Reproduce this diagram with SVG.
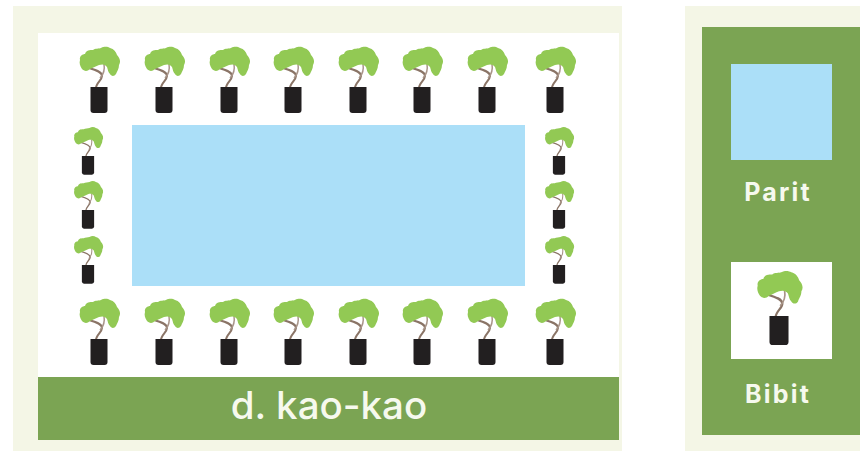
<svg xmlns="http://www.w3.org/2000/svg" xmlns:xlink="http://www.w3.org/1999/xlink" width="860" height="451" viewBox="0 0 860 451">
<style>
.beige{fill:#f4f6e6}.green{fill:#7ba453}.white{fill:#fff}.blue{fill:#abdff8}
.t{fill:#f6f9ee;font-family:"Inter","Liberation Sans",sans-serif;text-anchor:middle}
.lbl{font-size:25px;font-weight:700;letter-spacing:2.2px}
.title{font-size:38.5px;font-weight:500}
</style>
<defs>
<g id="tree">
<path d="M-3 1C-3-4 3-7 3-11C3-15-3-17-10-19" fill="none" stroke="#8a7466" stroke-width="2"/>
<path d="M1-9C5-13 6-17 5-23" fill="none" stroke="#a89488" stroke-width="1.5"/>
<path d="M-19-27C-20-31-16-33-14-33C-13-37-9-37-6-37C-4-39 0-38 2-39C6-41 9-40 11-39C15-38 17-35 18-32C21-29 22-25 20-22C20-18 18-16 17-13C15-10 12-11 11-13C9-15 9-17 8-20C6-23 3-23 0-22C-3-21-6-19-9-18C-12-15-15-16-17-18C-19-21-20-24-19-27Z" fill="#92c954"/>
<path d="M-8.500 0H8.500V23Q8.500 26 5.500 26H-5.500Q-8.500 26-8.500 23Z" fill="#221f20"/>
</g>
</defs>
<rect class="white" width="860" height="451"/>
<g id="plot">
<rect class="beige" x="13" y="6" width="609" height="445"/>
<rect class="white" x="38" y="33" width="581" height="344"/>
<rect class="blue" x="132" y="125" width="393" height="161"/>
<rect class="green" x="38" y="377" width="581" height="63"/>
<text class="t title" x="329" y="419">d. kao-kao</text>
</g>
<g id="trees-top">
<use xlink:href="#tree" href="#tree" x="99" y="87"/>
<use xlink:href="#tree" href="#tree" x="164" y="87"/>
<use xlink:href="#tree" href="#tree" x="229" y="87"/>
<use xlink:href="#tree" href="#tree" x="293" y="87"/>
<use xlink:href="#tree" href="#tree" x="358" y="87"/>
<use xlink:href="#tree" href="#tree" x="422" y="87"/>
<use xlink:href="#tree" href="#tree" x="487" y="87"/>
<use xlink:href="#tree" href="#tree" x="555" y="87"/>
</g>
<g id="trees-bottom">
<use xlink:href="#tree" href="#tree" x="99" y="339"/>
<use xlink:href="#tree" href="#tree" x="164" y="339"/>
<use xlink:href="#tree" href="#tree" x="229" y="339"/>
<use xlink:href="#tree" href="#tree" x="293" y="339"/>
<use xlink:href="#tree" href="#tree" x="358" y="339"/>
<use xlink:href="#tree" href="#tree" x="422" y="339"/>
<use xlink:href="#tree" href="#tree" x="487" y="339"/>
<use xlink:href="#tree" href="#tree" x="555" y="339"/>
</g>
<g id="trees-left">
<use xlink:href="#tree" href="#tree" transform="translate(88 156) scale(.72)"/>
<use xlink:href="#tree" href="#tree" transform="translate(88 210) scale(.72)"/>
<use xlink:href="#tree" href="#tree" transform="translate(88 265) scale(.72)"/>
</g>
<g id="trees-right">
<use xlink:href="#tree" href="#tree" transform="translate(559 156) scale(.72)"/>
<use xlink:href="#tree" href="#tree" transform="translate(559 210) scale(.72)"/>
<use xlink:href="#tree" href="#tree" transform="translate(559 265) scale(.72)"/>
</g>
<g id="legend">
<rect class="beige" x="685" y="6" width="175" height="445"/>
<rect class="green" x="702" y="27" width="158" height="408"/>
</g>
<g id="legend-parit">
<rect class="blue" x="731" y="64" width="101" height="96"/>
<text class="t lbl" x="778" y="201">Parit</text>
</g>
<g id="legend-bibit">
<rect class="white" x="731" y="262" width="101" height="97"/>
<use xlink:href="#tree" href="#tree" transform="translate(779 316) scale(1.12)"/>
<text class="t lbl" x="778" y="403">Bibit</text>
</g>
</svg>
